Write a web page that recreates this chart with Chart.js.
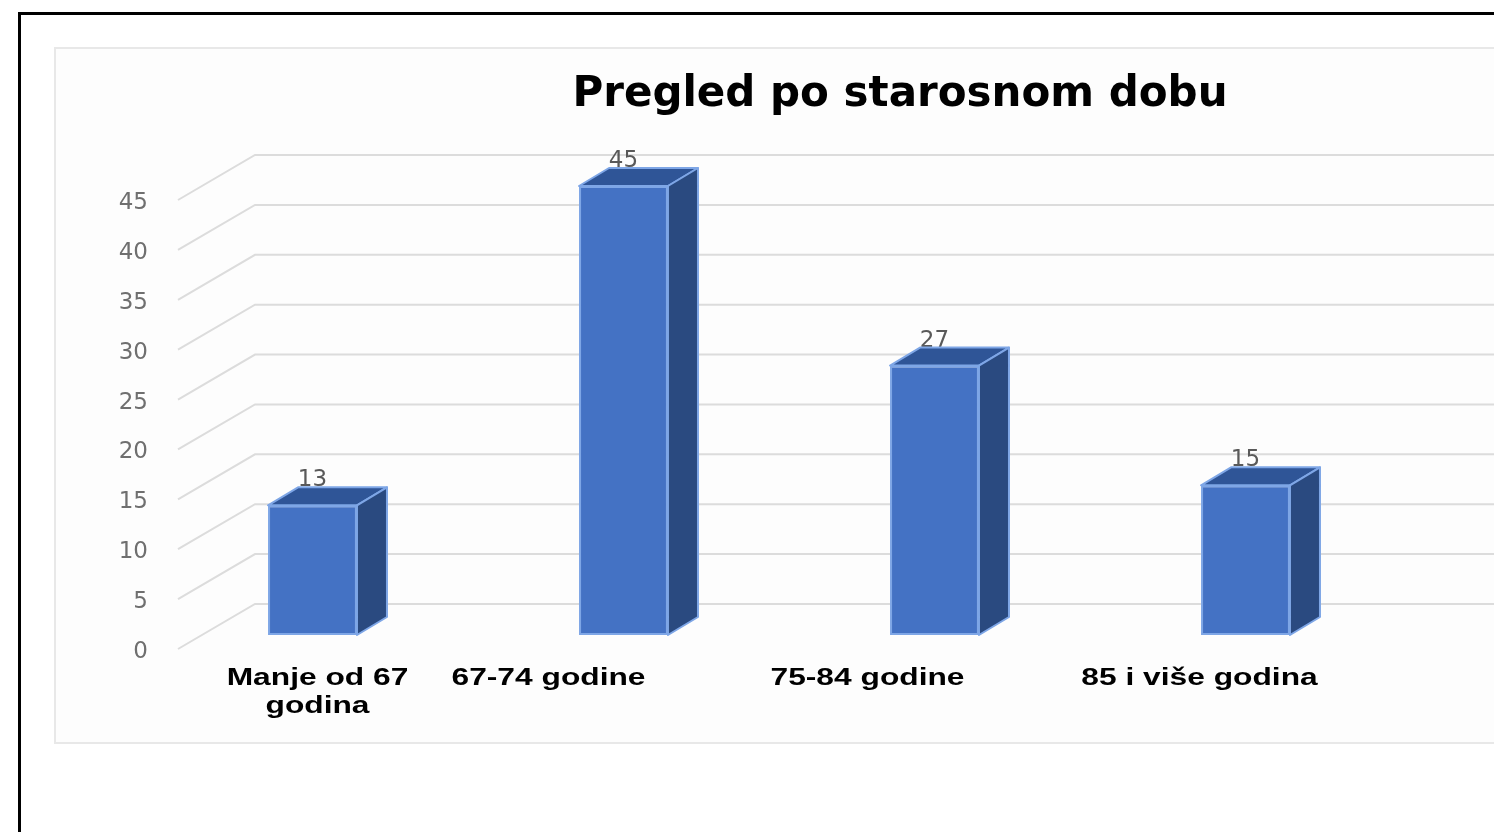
<!DOCTYPE html>
<html lang="hr">
<head>
    <meta charset="UTF-8">
    <title>Pregled po starosnom dobu</title>
    <script src="https://cdn.jsdelivr.net/npm/chart.js"></script>
    <style>
        html, body { margin: 0; height: 100%; background: #fff; overflow: hidden; }
        .sheet { position: absolute; left: 18px; top: 12px; width: 1600px; height: 1000px; border: 3px solid #000; }
        .frame { position: absolute; left: 54px; top: 47px; width: 1600px; height: 693px; border: 2px solid #e8e8e8; background: #fdfdfd; }
        canvas { position: absolute; left: 0; top: 0; }
    </style>
</head>
<body>
    <div class="sheet"></div>
    <div class="frame"></div>
    <canvas id="age-chart" width="1494" height="832"></canvas>

    <script>
        const categories = [['Manje od 67', 'godina'], ['67-74 godine'], ['75-84 godine'], ['85 i više godina']];
        const patients = [13, 45, 27, 15];
        const tickStep = 5;

        // fake 3D: how far the bar depth and the wall sit from the front plane
        const depth = { x: 30, y: -18 };
        const wallBack = { x: 255, y: -31 };
        const wallFront = { x: 178, y: 14 };
        const labelShift = [5, -75, -67, -46];
        const labelStretch = 1.38;   // the source picture is stretched sideways

        const fake3d = {
            id: 'fake3d',
            afterLayout(chart) {
                // title is centred over the whole original plot, not the cropped canvas
                chart.titleBlock.left = 0;
                chart.titleBlock.right = 1800;
            },
            beforeDatasetsDraw(chart) {
                const { ctx, scales: { y } } = chart;
                ctx.save();

                ctx.strokeStyle = '#dcdcdc';
                ctx.lineWidth = 2;
                y.ticks.forEach(t => {
                    const py = y.getPixelForValue(t.value);
                    ctx.beginPath();
                    ctx.moveTo(wallFront.x, py + wallFront.y);
                    ctx.lineTo(wallBack.x, py + wallBack.y);
                    ctx.lineTo(chart.width, py + wallBack.y);
                    ctx.stroke();
                });

                ctx.font = '23px "DejaVu Sans"';
                ctx.fillStyle = '#595959';
                ctx.textAlign = 'center';
                ctx.textBaseline = 'middle';
                const bars = chart.getDatasetMeta(0).data;
                bars.forEach((bar, i) => ctx.fillText(patients[i], bar.x, bar.y - 25));

                ctx.strokeStyle = '#7ea6e6';
                ctx.lineWidth = 2;
                ctx.lineJoin = 'round';
                bars.forEach(bar => {
                    const l = bar.x - bar.width / 2, r = bar.x + bar.width / 2;
                    ctx.fillStyle = '#2f5597';
                    ctx.beginPath();
                    ctx.moveTo(l, bar.y);
                    ctx.lineTo(l + depth.x, bar.y + depth.y);
                    ctx.lineTo(r + depth.x, bar.y + depth.y);
                    ctx.lineTo(r, bar.y);
                    ctx.closePath();
                    ctx.fill();
                    ctx.stroke();

                    ctx.fillStyle = '#2a4a80';
                    ctx.beginPath();
                    ctx.moveTo(r, bar.y);
                    ctx.lineTo(r + depth.x, bar.y + depth.y);
                    ctx.lineTo(r + depth.x, bar.base + depth.y);
                    ctx.lineTo(r, bar.base);
                    ctx.closePath();
                    ctx.fill();
                    ctx.stroke();
                });
                ctx.restore();
            },
            afterDraw(chart) {
                const { ctx, scales: { x } } = chart;
                ctx.save();
                ctx.font = 'bold 23px "Liberation Sans"';
                ctx.fillStyle = '#000';
                ctx.textAlign = 'center';
                ctx.textBaseline = 'middle';
                categories.forEach((lines, i) => {
                    lines.forEach((line, n) => {
                        ctx.save();
                        ctx.translate(x.getPixelForTick(i) + labelShift[i], 679 + n * 28);
                        ctx.scale(labelStretch, 1);
                        ctx.fillText(line, 0, 0);
                        ctx.restore();
                    });
                });
                ctx.restore();
            }
        };

        new Chart(document.getElementById('age-chart').getContext('2d'), {
            type: 'bar',
            data: {
                labels: categories.map(c => c.join(' ')),
                datasets: [{
                    data: patients,
                    backgroundColor: '#4472c4',
                    borderColor: '#7ea6e6',
                    borderWidth: 2,
                    borderSkipped: false,
                    barPercentage: 0.286,
                    categoryPercentage: 1
                }]
            },
            options: {
                responsive: false,
                animation: false,
                layout: { padding: { right: 93 } },
                plugins: {
                    legend: { display: false },
                    tooltip: { enabled: false },
                    title: {
                        display: true,
                        text: 'Pregled po starosnom dobu',
                        color: '#000',
                        font: { family: '"DejaVu Sans"', size: 42, weight: 'bold', lineHeight: 1.2 },
                        padding: { top: 70, bottom: 65.6 }
                    }
                },
                scales: {
                    x: {
                        grid: { display: false },
                        border: { display: false },
                        ticks: { display: false },
                        afterFit: scale => { scale.height = 197; }
                    },
                    y: {
                        min: 0,
                        max: 45,
                        grid: { display: false, drawTicks: false },
                        border: { display: false },
                        ticks: {
                            stepSize: tickStep,
                            color: '#6f6f6f',
                            font: { family: '"DejaVu Sans"', size: 23 },
                            padding: 9,
                            labelOffset: 17
                        },
                        afterFit: scale => { scale.width = 157; }
                    }
                }
            },
            plugins: [fake3d]
        });
    </script>
</body>
</html>
